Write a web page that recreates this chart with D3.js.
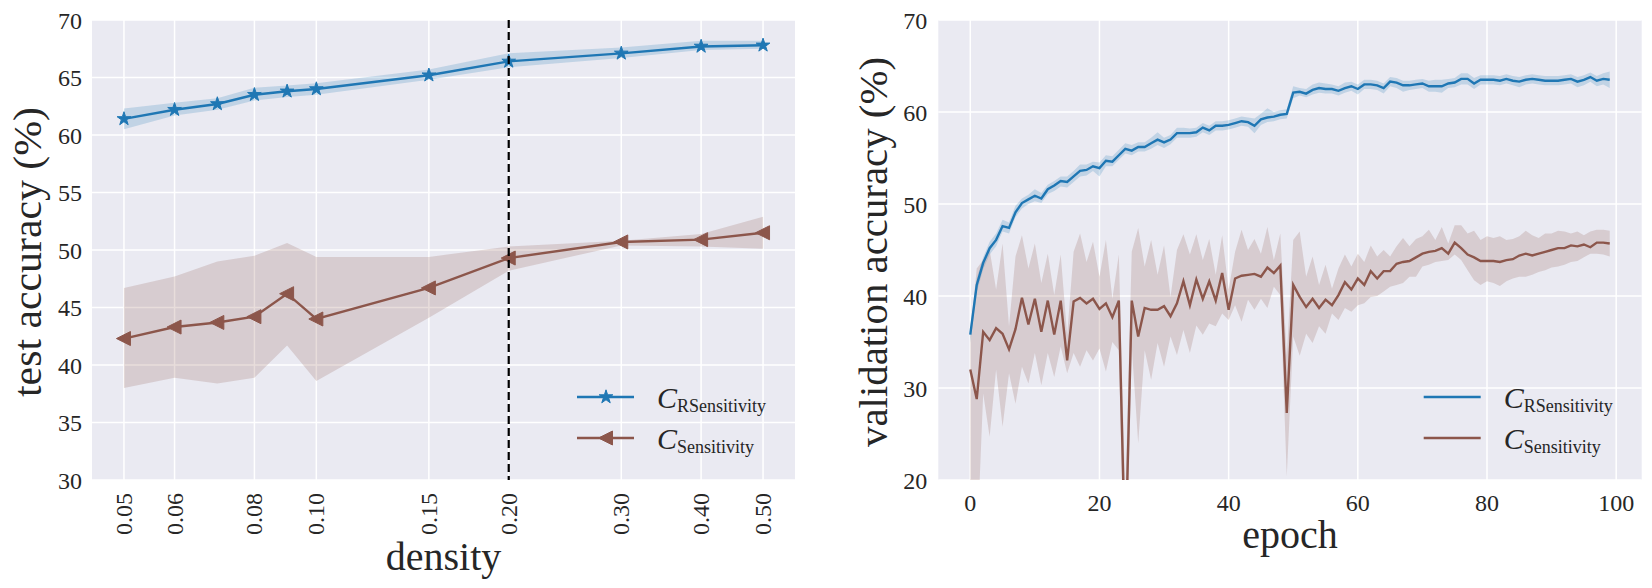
<!DOCTYPE html>
<html>
<head>
<meta charset="utf-8">
<script src="https://cdn.jsdelivr.net/npm/d3@7"></script>
<style>
body { margin: 0; background: #ffffff; }
text { font-family: "Liberation Serif", "DejaVu Serif", serif; fill: #262626; }
</style>
</head>
<body>
<div id="chart"></div>
<script>
// ---- left panel data: test accuracy vs density ----
var densities = [0.05, 0.06, 0.07, 0.08, 0.09, 0.10, 0.15, 0.20, 0.30, 0.40, 0.50];
var densityTicks = [0.05, 0.06, 0.08, 0.10, 0.15, 0.20, 0.30, 0.40, 0.50];
var rsensTest = [61.4, 62.2, 62.7, 63.5, 63.8, 64.0, 65.2, 66.4, 67.1, 67.7, 67.8];
var rsensTestHi = [62.3, 62.8, 63.2, 64.1, 64.3, 64.5, 65.7, 67.1, 67.6, 68.2, 68.2];
var rsensTestLo = [60.5, 61.7, 62.2, 63.0, 63.3, 63.5, 64.8, 65.9, 66.7, 67.4, 67.5];
var sensTest = [42.3, 43.3, 43.7, 44.2, 46.2, 44.0, 46.7, 49.3, 50.7, 50.9, 51.5];
var sensTestHi = [46.7, 47.7, 49.0, 49.5, 50.6, 49.4, 49.4, 50.3, 50.8, 51.4, 52.9];
var sensTestLo = [38.0, 38.9, 38.4, 38.9, 41.7, 38.6, 44.1, 48.2, 50.4, 50.3, 50.1];
var markedDensity = 0.20;

// ---- right panel data: validation accuracy vs epoch ----
var epochTicks = [0, 20, 40, 60, 80, 100];
var rsensVal = [
  35.8, 41.2, 43.6, 45.2, 46.1, 47.6, 47.4, 49.1, 50.1, 50.5,
  50.9, 50.6, 51.6, 52.0, 52.5, 52.4, 53.0, 53.6, 53.7, 54.1,
  53.9, 54.7, 54.6, 55.3, 56.0, 55.8, 56.2, 56.2, 56.6, 57.0,
  56.7, 57.0, 57.7, 57.7, 57.7, 57.8, 58.3, 58.0, 58.5, 58.5,
  58.6, 58.8, 59.0, 58.9, 58.5, 59.2, 59.4, 59.5, 59.7, 59.8,
  62.1, 62.2, 62.0, 62.4, 62.6, 62.5, 62.5, 62.3, 62.6, 62.8,
  62.5, 63.0, 63.0, 62.9, 62.6, 63.3, 63.2, 62.9, 62.9, 63.0,
  63.1, 62.8, 62.8, 62.8, 63.1, 63.2, 63.6, 63.6, 63.1, 63.5,
  63.5, 63.5, 63.4, 63.6, 63.4, 63.3, 63.5, 63.6, 63.5, 63.4,
  63.4, 63.4, 63.5, 63.6, 63.3, 63.5, 63.8, 63.4, 63.6, 63.5
];
var rsensValHi = [
  36.6, 41.9, 44.2, 45.9, 46.8, 48.3, 48.0, 49.8, 50.6, 51.0,
  51.6, 51.2, 52.1, 52.5, 53.0, 53.0, 53.6, 54.3, 54.3, 54.6,
  54.5, 55.3, 55.2, 55.9, 56.6, 56.4, 56.7, 56.7, 57.2, 57.8,
  57.2, 57.5, 58.3, 58.3, 58.2, 58.3, 58.8, 58.5, 59.0, 59.0,
  59.1, 59.3, 59.5, 59.4, 59.3, 59.8, 60.4, 60.0, 60.2, 60.3,
  62.8, 62.6, 62.5, 63.0, 63.2, 63.1, 63.0, 62.8, 63.2, 63.3,
  63.0, 63.5, 63.5, 63.4, 63.1, 63.8, 63.7, 63.4, 63.4, 63.5,
  63.6, 63.4, 63.5, 63.5, 63.6, 63.7, 64.2, 64.2, 63.7, 64.0,
  64.0, 64.0, 63.9, 64.1, 63.9, 63.8, 64.0, 64.1, 64.0, 63.9,
  63.9, 63.9, 64.0, 64.1, 63.8, 64.0, 64.3, 63.9, 64.2, 64.4
];
var rsensValLo = [
  34.9, 40.4, 42.9, 44.5, 45.4, 47.0, 46.8, 48.6, 49.5, 50.0,
  50.3, 50.1, 51.1, 51.4, 51.9, 51.8, 52.4, 53.0, 53.1, 53.6,
  53.0, 54.1, 54.1, 54.8, 55.5, 55.3, 55.7, 55.7, 56.0, 56.4,
  56.1, 56.5, 57.2, 57.2, 57.2, 57.3, 57.8, 57.5, 58.0, 58.0,
  58.1, 58.3, 58.5, 58.4, 57.7, 58.6, 58.9, 59.0, 59.2, 59.3,
  61.5, 61.8, 61.6, 61.9, 62.1, 62.0, 62.0, 61.8, 62.1, 62.3,
  61.9, 62.5, 62.5, 62.4, 62.0, 62.8, 62.6, 62.2, 62.4, 62.5,
  62.6, 62.2, 62.2, 62.1, 62.6, 62.7, 63.0, 63.0, 62.5, 63.0,
  63.0, 63.0, 62.9, 63.1, 62.9, 62.7, 63.0, 63.1, 63.0, 62.9,
  62.9, 62.9, 63.0, 63.1, 62.7, 62.9, 63.3, 62.8, 63.0, 62.6
];
var sensVal = [
  32.0, 28.8, 36.1, 35.2, 36.5, 35.9, 34.2, 36.4, 39.8, 36.9,
  39.7, 36.1, 39.5, 35.8, 39.5, 33.0, 39.4, 39.8, 39.2, 39.7,
  38.6, 39.2, 37.7, 39.5, 11.0, 39.5, 35.6, 38.7, 38.5, 38.5,
  38.9, 37.8, 39.2, 41.6, 39.0, 41.8, 39.7, 41.6, 39.5, 42.5,
  38.5, 41.9, 42.2, 42.3, 42.4, 42.1, 43.1, 42.5, 43.3, 27.3,
  41.2, 39.9, 38.8, 39.7, 38.7, 39.6, 39.0, 40.1, 41.5, 40.7,
  41.9, 41.2, 42.7, 41.9, 42.7, 42.7, 43.5, 43.7, 43.8, 44.2,
  44.6, 44.8, 44.9, 45.2, 44.6, 45.8, 45.2, 44.5, 44.2, 43.8,
  43.8, 43.8, 43.7, 43.9, 44.0, 44.4, 44.6, 44.4, 44.6, 44.8,
  45.0, 45.2, 45.2, 45.5, 45.4, 45.6, 45.3, 45.8, 45.8, 45.7
];
var sensValHi = [
  35.6, 43.0, 43.9, 45.0, 40.7, 45.7, 36.7, 44.3, 46.6, 43.0,
  45.7, 41.4, 44.6, 40.1, 44.5, 35.8, 44.8, 46.8, 43.7, 45.9,
  42.1, 46.1, 39.7, 44.5, 18.0, 44.8, 47.4, 43.2, 46.1, 42.3,
  45.5, 39.9, 45.0, 46.7, 44.5, 46.7, 43.9, 46.2, 42.3, 46.6,
  40.7, 44.8, 47.2, 45.0, 46.2, 44.6, 47.5, 43.9, 46.8, 33.5,
  46.1, 47.0, 42.1, 44.3, 41.2, 43.4, 40.8, 43.0, 44.5, 43.2,
  44.6, 43.7, 45.5, 44.3, 45.0, 44.3, 45.4, 46.3, 45.4, 46.2,
  46.5, 47.2, 46.1, 47.5, 45.7, 47.7, 47.7, 46.8, 47.1, 46.1,
  46.5, 46.3, 46.5, 46.1, 46.2, 46.5, 47.1, 46.6, 46.3, 46.8,
  46.8, 47.1, 47.0, 46.8, 47.0, 46.6, 47.0, 47.2, 47.2, 47.1
];
var sensValLo = [
  15.0, 12.0, 29.4, 24.7, 32.0, 25.8, 31.6, 28.3, 32.3, 30.5,
  33.8, 30.3, 33.8, 31.2, 34.5, 31.6, 33.8, 32.3, 34.1, 33.0,
  34.3, 31.8, 35.0, 34.1, 4.0, 34.5, 24.0, 34.1, 30.9, 34.9,
  32.3, 35.6, 33.6, 36.3, 33.8, 36.8, 35.8, 37.0, 36.7, 38.1,
  37.4, 39.0, 37.2, 39.6, 38.5, 39.7, 38.7, 41.0, 40.1, 20.4,
  35.6, 33.5, 35.9, 34.9, 36.7, 35.9, 38.1, 37.4, 38.7, 38.3,
  39.0, 39.2, 39.9, 40.0, 40.5, 41.0, 41.2, 41.4, 42.1, 42.1,
  43.2, 43.4, 43.7, 43.8, 43.9, 44.5, 43.9, 42.8, 41.7, 41.2,
  41.6, 41.4, 41.1, 41.6, 41.9, 42.1, 42.1, 42.3, 42.6, 42.8,
  43.1, 43.2, 43.4, 43.7, 43.8, 44.2, 44.6, 44.6, 44.5, 44.3
];

var width = 1652;
var height = 588;
var blue = "#1f77b4";
var brown = "#8c564b";

var svg = d3.select("#chart")
  .append("svg")
  .attr("width", width)
  .attr("height", height);

svg.append("rect").attr("width", width).attr("height", height).attr("fill", "#ffffff");

// panel frames
var left = {x0: 92, x1: 795, y0: 20, y1: 480};
var right = {x0: 938.3, x1: 1641.7, y0: 20, y1: 480};

function drawBackground(p, id) {
  svg.append("rect")
    .attr("x", p.x0).attr("y", p.y0)
    .attr("width", p.x1 - p.x0).attr("height", p.y1 - p.y0)
    .attr("fill", "#eaeaf2");
  svg.append("clipPath").attr("id", id)
    .append("rect")
    .attr("x", p.x0).attr("y", p.y0)
    .attr("width", p.x1 - p.x0).attr("height", p.y1 - p.y0);
}
drawBackground(left, "clipL");
drawBackground(right, "clipR");

// ---------- left panel ----------
var pad = Math.pow(10, 0.05);
var xL = d3.scaleLog()
  .domain([densities[0] / pad, densities[densities.length - 1] * pad])
  .range([left.x0, left.x1]);
var yL = d3.scaleLinear().domain([30, 70]).range([left.y1, left.y0]);

var gridL = svg.append("g");
gridL.selectAll(".vg").data(densityTicks).enter().append("line")
  .attr("x1", function(d){ return xL(d); }).attr("x2", function(d){ return xL(d); })
  .attr("y1", left.y0).attr("y2", left.y1)
  .attr("stroke", "#ffffff").attr("stroke-width", 1.5);
gridL.selectAll(".hg").data(yL.ticks(8)).enter().append("line")
  .attr("x1", left.x0).attr("x2", left.x1)
  .attr("y1", function(d){ return yL(d); }).attr("y2", function(d){ return yL(d); })
  .attr("stroke", "#ffffff").attr("stroke-width", 1.5);

var plotL = svg.append("g").attr("clip-path", "url(#clipL)");

function bandL(hi, lo, color) {
  var area = d3.area()
    .x(function(d, i){ return xL(densities[i]); })
    .y0(function(d, i){ return yL(lo[i]); })
    .y1(function(d, i){ return yL(hi[i]); });
  plotL.append("path").datum(hi).attr("d", area)
    .attr("fill", color).attr("fill-opacity", 0.2);
}
bandL(rsensTestHi, rsensTestLo, blue);
bandL(sensTestHi, sensTestLo, brown);

var lineL = d3.line()
  .x(function(d, i){ return xL(densities[i]); })
  .y(function(d){ return yL(d); });

var starPath = d3.symbol().type(d3.symbolStar).size(58)();
var triPath = "M-7.5,0L6.5,-7L6.5,7Z";

function seriesL(vals, color, marker) {
  plotL.append("path").datum(vals).attr("d", lineL)
    .attr("fill", "none").attr("stroke", color).attr("stroke-width", 2.4);
  plotL.selectAll(null).data(vals).enter().append("path")
    .attr("d", marker)
    .attr("transform", function(d, i){ return "translate(" + xL(densities[i]) + "," + yL(d) + ")"; })
    .attr("fill", color).attr("stroke", color).attr("stroke-width", 1);
}
seriesL(rsensTest, blue, starPath);
seriesL(sensTest, brown, triPath);

// dashed marker at selected density
plotL.append("line")
  .attr("x1", xL(markedDensity)).attr("x2", xL(markedDensity))
  .attr("y1", left.y0).attr("y2", left.y1)
  .attr("stroke", "#000000").attr("stroke-width", 2.2)
  .attr("stroke-dasharray", "8,4");

// left ticks
svg.append("g").selectAll("text").data(yL.ticks(8)).enter().append("text")
  .attr("x", left.x0 - 10).attr("y", function(d){ return yL(d) + 8.5; })
  .attr("text-anchor", "end").attr("font-size", 24)
  .text(function(d){ return d; });

svg.append("g").selectAll("text").data(densityTicks).enter().append("text")
  .attr("transform", function(d){ return "translate(" + (xL(d) + 8) + "," + (left.y1 + 13) + ")rotate(-90)"; })
  .attr("text-anchor", "end").attr("font-size", 24)
  .text(function(d){ return d3.format(".2f")(d); });

svg.append("text")
  .attr("x", (left.x0 + left.x1) / 2).attr("y", 570)
  .attr("text-anchor", "middle").attr("font-size", 40)
  .text("density");

svg.append("text")
  .attr("transform", "translate(41," + ((left.y0 + left.y1) / 2 + 2) + ")rotate(-90)")
  .attr("text-anchor", "middle").attr("font-size", 41)
  .attr("textLength", 290).attr("lengthAdjust", "spacingAndGlyphs")
  .text("test accuracy (%)");

// ---------- right panel ----------
var xR = d3.scaleLinear().domain([-4.95, 103.95]).range([right.x0, right.x1]);
var yR = d3.scaleLinear().domain([20, 70]).range([right.y1, right.y0]);

var gridR = svg.append("g");
gridR.selectAll(".vg").data(epochTicks).enter().append("line")
  .attr("x1", function(d){ return xR(d); }).attr("x2", function(d){ return xR(d); })
  .attr("y1", right.y0).attr("y2", right.y1)
  .attr("stroke", "#ffffff").attr("stroke-width", 1.5);
gridR.selectAll(".hg").data(yR.ticks(5)).enter().append("line")
  .attr("x1", right.x0).attr("x2", right.x1)
  .attr("y1", function(d){ return yR(d); }).attr("y2", function(d){ return yR(d); })
  .attr("stroke", "#ffffff").attr("stroke-width", 1.5);

var plotR = svg.append("g").attr("clip-path", "url(#clipR)");

function bandR(hi, lo, color) {
  var area = d3.area()
    .x(function(d, i){ return xR(i); })
    .y0(function(d, i){ return yR(lo[i]); })
    .y1(function(d, i){ return yR(hi[i]); });
  plotR.append("path").datum(hi).attr("d", area)
    .attr("fill", color).attr("fill-opacity", 0.2);
}
bandR(rsensValHi, rsensValLo, blue);
bandR(sensValHi, sensValLo, brown);

var lineR = d3.line()
  .x(function(d, i){ return xR(i); })
  .y(function(d){ return yR(d); });

plotR.append("path").datum(rsensVal).attr("d", lineR)
  .attr("fill", "none").attr("stroke", blue).attr("stroke-width", 2.4);
plotR.append("path").datum(sensVal).attr("d", lineR)
  .attr("fill", "none").attr("stroke", brown).attr("stroke-width", 2.4);

svg.append("g").selectAll("text").data(yR.ticks(5)).enter().append("text")
  .attr("x", right.x0 - 11).attr("y", function(d){ return yR(d) + 8.5; })
  .attr("text-anchor", "end").attr("font-size", 24)
  .text(function(d){ return d; });

svg.append("g").selectAll("text").data(epochTicks).enter().append("text")
  .attr("x", function(d){ return xR(d); }).attr("y", right.y1 + 31)
  .attr("text-anchor", "middle").attr("font-size", 24)
  .text(function(d){ return d; });

svg.append("text")
  .attr("x", (right.x0 + right.x1) / 2).attr("y", 548)
  .attr("text-anchor", "middle").attr("font-size", 40)
  .text("epoch");

svg.append("text")
  .attr("transform", "translate(887," + ((right.y0 + right.y1) / 2 + 2) + ")rotate(-90)")
  .attr("text-anchor", "middle").attr("font-size", 41)
  .attr("textLength", 390).attr("lengthAdjust", "spacingAndGlyphs")
  .text("validation accuracy (%)");

// ---------- legends ----------
var legendNames = ["RSensitivity", "Sensitivity"];
var legendColors = [blue, brown];

function legend(p, markers) {
  var x0 = p.x1 - 218;
  legendNames.forEach(function(name, i){
    var y = 397 + i * 41;
    svg.append("line")
      .attr("x1", x0).attr("x2", x0 + 57)
      .attr("y1", y).attr("y2", y)
      .attr("stroke", legendColors[i]).attr("stroke-width", 2.4);
    if (markers) {
      svg.append("path").attr("d", markers[i])
        .attr("transform", "translate(" + (x0 + 29) + "," + y + ")")
        .attr("fill", legendColors[i]).attr("stroke", legendColors[i]);
    }
    var t = svg.append("text")
      .attr("x", x0 + 80).attr("y", y + 11)
      .attr("font-size", 30);
    t.append("tspan").attr("font-style", "italic").text("C");
    t.append("tspan").attr("font-size", 18).attr("dy", 4).text(name);
  });
}
legend(left, [starPath, triPath]);
legend(right, null);
</script>
</body>
</html>
